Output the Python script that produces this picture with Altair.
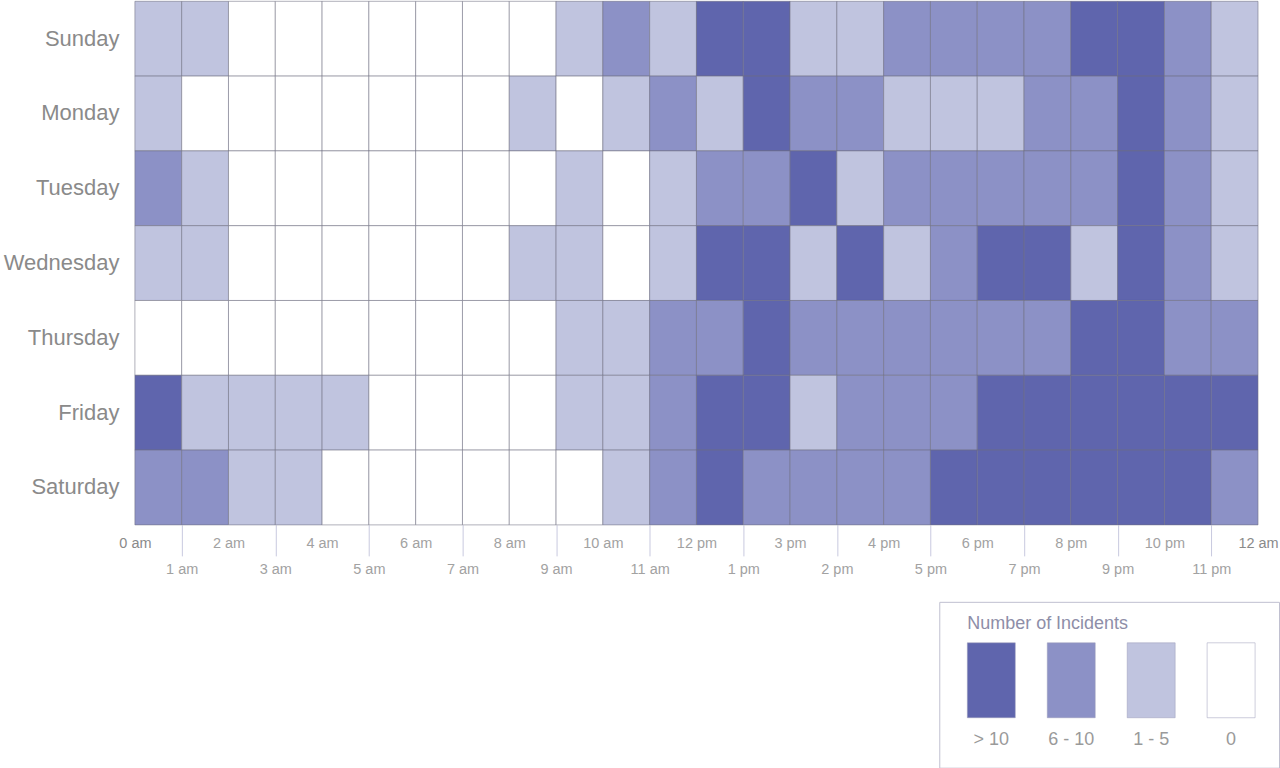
import altair as alt
import pandas as pd

# ---------------- data ----------------
days = ["Sunday", "Monday", "Tuesday", "Wednesday", "Thursday", "Friday", "Saturday"]

# level codes per hour (0 = none, 1 = 1-5, 2 = 6-10, 3 = >10)
sunday    = [1, 1, 0, 0, 0, 0, 0, 0, 0, 1, 2, 1, 3, 3, 1, 1, 2, 2, 2, 2, 3, 3, 2, 1]
monday    = [1, 0, 0, 0, 0, 0, 0, 0, 1, 0, 1, 2, 1, 3, 2, 2, 1, 1, 1, 2, 2, 3, 2, 1]
tuesday   = [2, 1, 0, 0, 0, 0, 0, 0, 0, 1, 0, 1, 2, 2, 3, 1, 2, 2, 2, 2, 2, 3, 2, 1]
wednesday = [1, 1, 0, 0, 0, 0, 0, 0, 1, 1, 0, 1, 3, 3, 1, 3, 1, 2, 3, 3, 1, 3, 2, 1]
thursday  = [0, 0, 0, 0, 0, 0, 0, 0, 0, 1, 1, 2, 2, 3, 2, 2, 2, 2, 2, 2, 3, 3, 2, 2]
friday    = [3, 1, 1, 1, 1, 0, 0, 0, 0, 1, 1, 2, 3, 3, 1, 2, 2, 2, 3, 3, 3, 3, 3, 3]
saturday  = [2, 2, 1, 1, 0, 0, 0, 0, 0, 0, 1, 2, 3, 2, 2, 2, 2, 3, 3, 3, 3, 3, 3, 2]
day_values = [sunday, monday, tuesday, wednesday, thursday, friday, saturday]

# tick labels at hour boundaries 0..24 (as printed in the original)
boundary_labels = ["0 am", "1 am", "2 am", "3 am", "4 am", "5 am", "6 am", "7 am",
                   "8 am", "9 am", "10 am", "11 am", "12 pm", "1 pm", "3 pm", "2 pm",
                   "4 pm", "5 pm", "6 pm", "7 pm", "8 pm", "9 pm", "10 pm", "11 pm",
                   "12 am"]

levels = ["0", "1 - 5", "6 - 10", "> 10"]
level_colors = ["#ffffff", "#c0c4df", "#8c91c6", "#5f65ad"]
legend_order = ["> 10", "6 - 10", "1 - 5", "0"]
legend_title = "Number of Incidents"

# ---------------- table ----------------
rows = []
for d, vals in zip(days, day_values):
    for h, v in enumerate(vals):
        rows.append({"day": d, "hour": h, "hour_end": h + 1, "level": levels[v]})
df = pd.DataFrame(rows)

FONT = "Liberation Sans"
color_scale = alt.Scale(domain=levels, range=level_colors)
x_scale = alt.Scale(domain=[0, 24], nice=False, zero=False)
label_expr = "[" + ",".join("'" + s + "'" for s in boundary_labels) + "][datum.value]"
edge_color = {"condition": {"test": "datum.value == 0 || datum.value == 24", "value": "#8a8a8a"},
              "value": "#a2a2a2"}

even_axis = alt.Axis(values=list(range(0, 25, 2)), labelExpr=label_expr, ticks=False,
                     domain=False, grid=False, labelPadding=12, labelFontSize=14.5,
                     labelFont=FONT, labelColor=edge_color, labelFlush=False,
                     labelOverlap=False, labelBound=False, title=None, orient="bottom")
odd_axis = alt.Axis(values=list(range(1, 24, 2)), labelExpr=label_expr, ticks=True,
                    tickSize=31, tickColor="#c8c9df", tickWidth=1, domain=False, grid=False,
                    labelPadding=7, labelFontSize=14.5, labelFont=FONT, labelColor="#a2a2a2",
                    labelFlush=False, labelOverlap=False, labelBound=False, title=None,
                    orient="bottom")
y_enc = alt.Y("day:O", sort=days,
              axis=alt.Axis(title=None, ticks=False, domain=False, labelFontSize=22,
                            labelFont=FONT, labelColor="#8a8a8a", labelPadding=16,
                            minExtent=135))

cells = alt.Chart(df).mark_rect(stroke="#6e6e80", strokeOpacity=0.55, strokeWidth=1).encode(
    x=alt.X("hour:Q", scale=x_scale, axis=even_axis),
    x2="hour_end:Q",
    y=y_enc,
    color=alt.Color("level:N", scale=color_scale, legend=None),
)
odd_layer = alt.Chart(df).mark_rect(opacity=0).encode(
    x=alt.X("hour:Q", scale=x_scale, axis=odd_axis),
    x2="hour_end:Q",
    y=y_enc,
)
heat = alt.layer(cells, odd_layer).resolve_axis(x="independent").properties(
    width=1124, height=524)

# ---------------- legend (drawn with marks) ----------------
leg_df = pd.DataFrame({"label": legend_order, "level": legend_order})
leg_x = alt.X("label:N", sort=legend_order,
              scale=alt.Scale(domain=legend_order, paddingInner=0.4, paddingOuter=0.325,
                              align=0.54),
              axis=None)
swatches = alt.Chart(leg_df).mark_rect(stroke="#9a9ab8", strokeOpacity=0.5, strokeWidth=1).encode(
    x=leg_x, y=alt.value(41), y2=alt.value(116),
    color=alt.Color("level:N", scale=color_scale, legend=None),
)
leg_labels = alt.Chart(leg_df).mark_text(fontSize=18, font=FONT, color="#9a9a9a",
                                         baseline="middle").encode(
    x=leg_x, y=alt.value(138), text="label:N")
leg_title = alt.Chart(pd.DataFrame({"t": [legend_title]})).mark_text(
    align="left", baseline="middle", fontSize=18, font=FONT, color="#8e8ea8").encode(
    x=alt.value(28), y=alt.value(22), text="t:N")
legend = alt.layer(swatches, leg_labels, leg_title).properties(
    width=340, height=166, view=alt.ViewBackground(stroke="#c0c0d0", strokeWidth=1))

# rows of a vconcat are aligned on the plot area (x = 135), so the spacer fills 135 -> 939
spacer = alt.Chart(pd.DataFrame({"s": [0]})).mark_point(opacity=0).encode(
    x=alt.value(0), y=alt.value(0)).properties(width=804, height=10)

chart = alt.vconcat(
    heat, alt.hconcat(spacer, legend, spacing=0), spacing=22
).properties(
    padding={"left": 0, "top": 0, "right": 0, "bottom": 0}, background="white"
).configure_view(stroke=None)

chart.save("out.html", embed_options={"renderer": "svg", "actions": False})
